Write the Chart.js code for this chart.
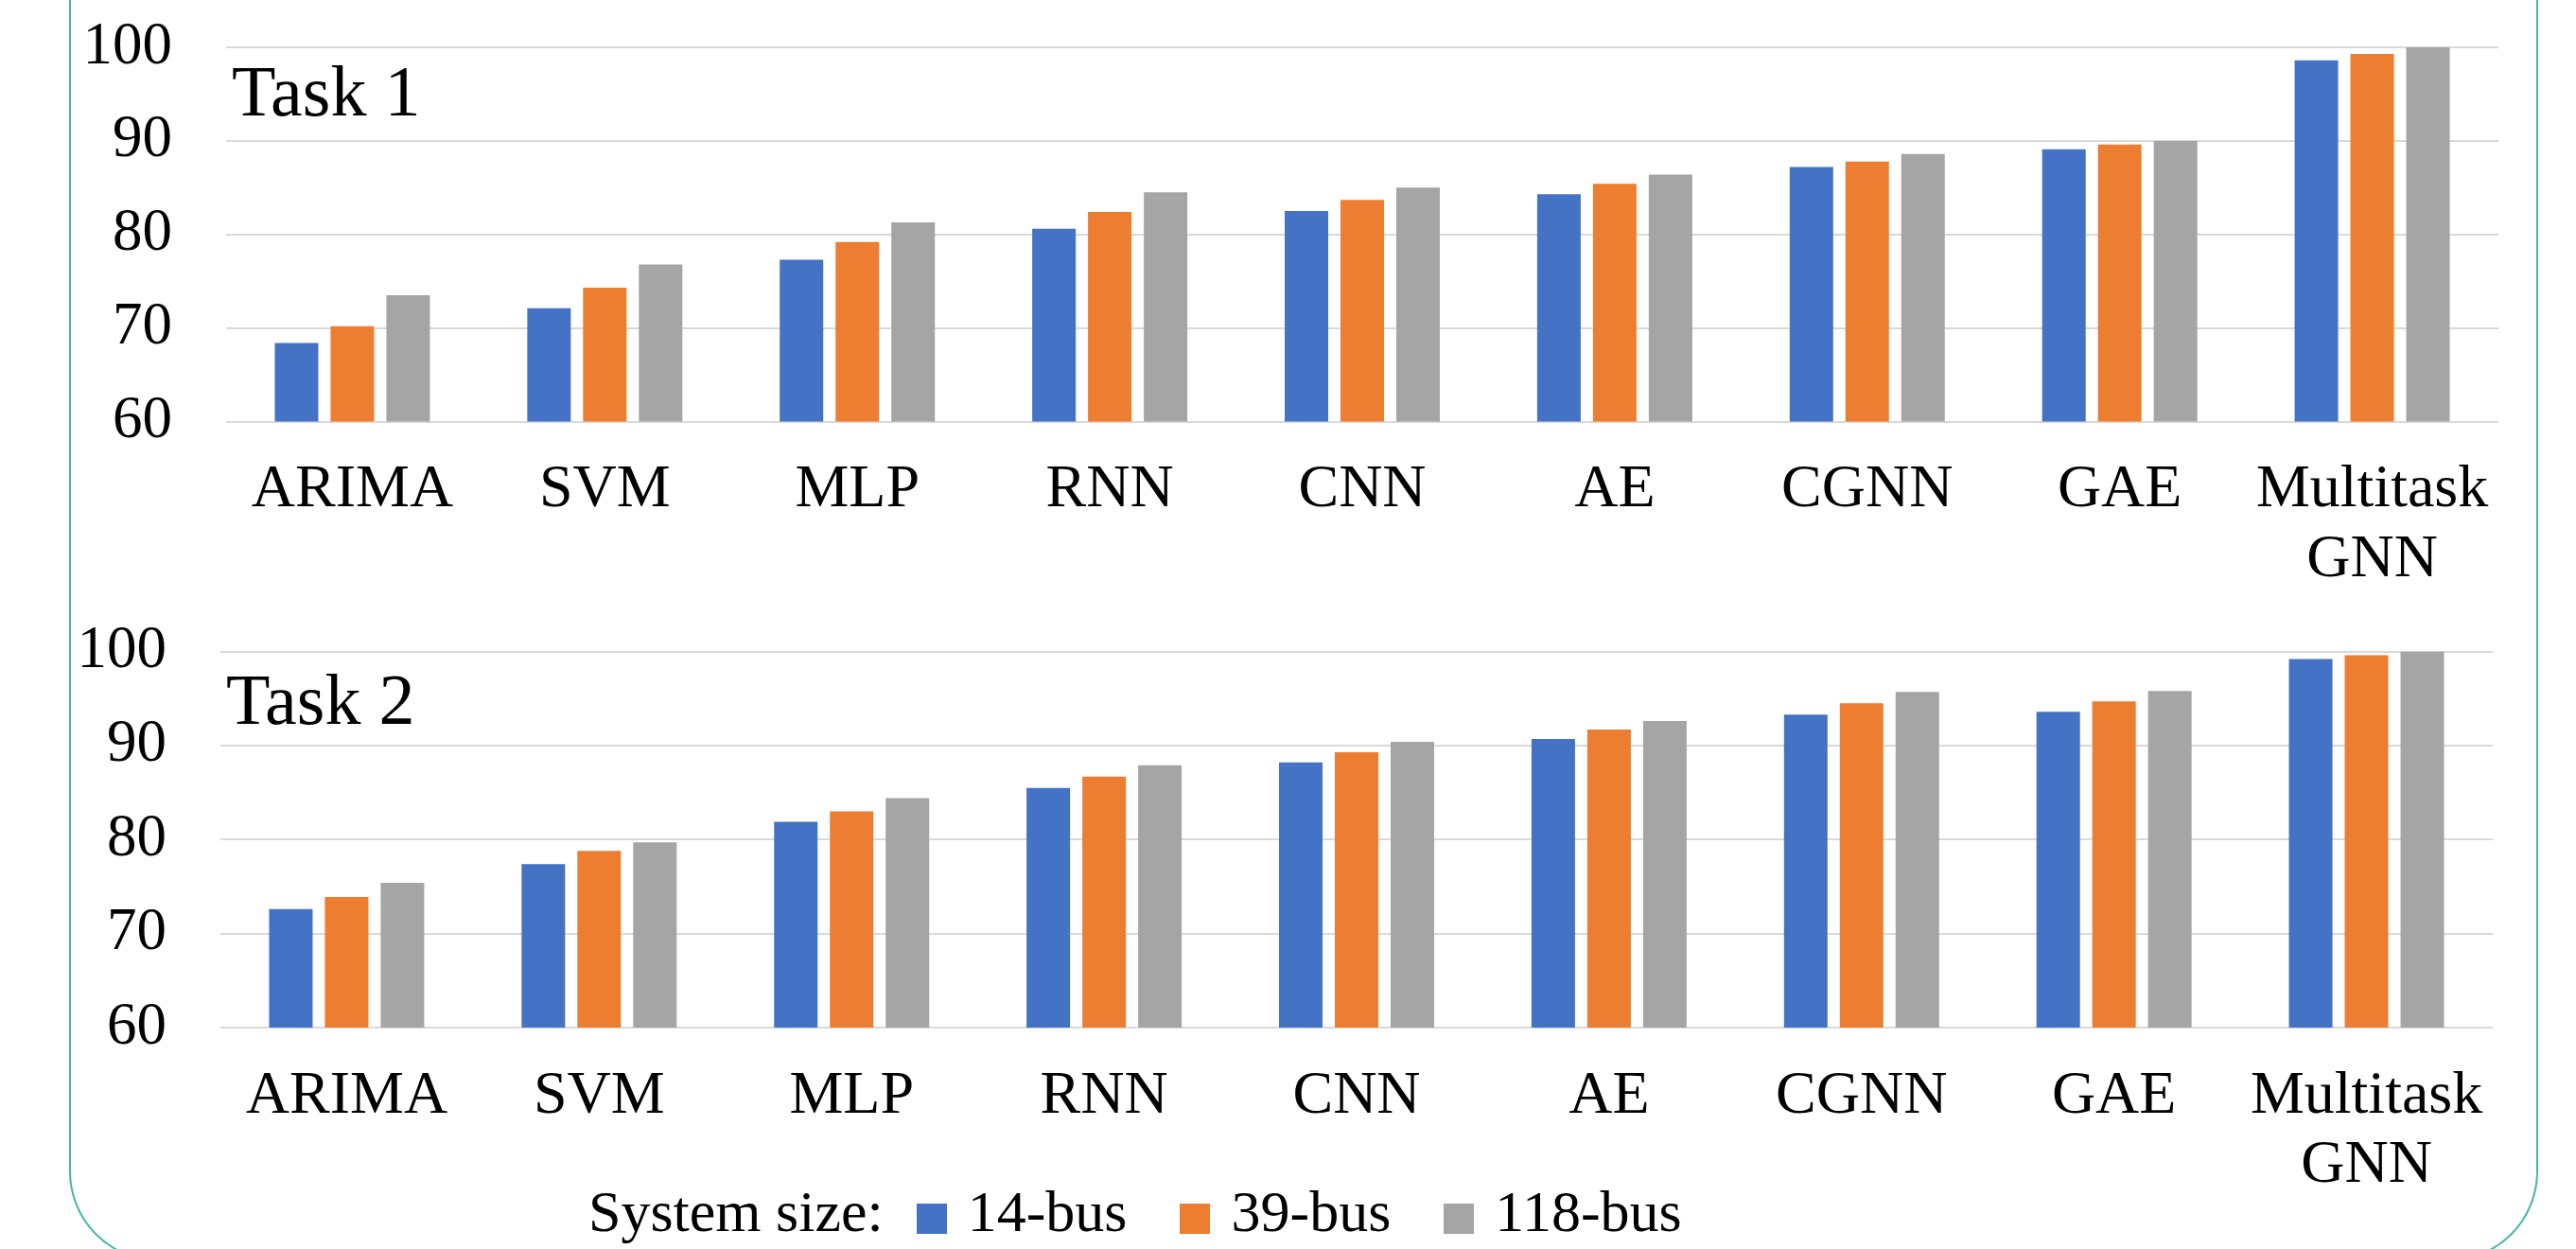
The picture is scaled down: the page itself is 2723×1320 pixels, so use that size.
<!DOCTYPE html>
<html>
<head>
<meta charset="utf-8">
<script src="https://cdn.jsdelivr.net/npm/chart.js@4.4.1/dist/chart.umd.min.js"></script>
<style>
  html, body { margin: 0; padding: 0; background: #ffffff; }
  body { width: 2723px; height: 1320px; position: relative; overflow: hidden; }
  canvas { position: absolute; left: 0; }
  #frame {
    position: absolute; left: 73px; top: -120px; width: 2610px; height: 1453px;
    border: 2px solid #47B5A8; border-radius: 95px; box-sizing: border-box;
  }
  #legend {
    position: absolute; left: 622px; top: 1249px; display: flex; align-items: center;
    font-family: 'Liberation Serif', 'Times New Roman', serif; font-size: 62px; line-height: 62px; color: #000;
    white-space: nowrap;
  }
  #legend .sw { width: 32px; height: 32px; position: relative; top: 8px; margin-right: 22px; }
  #legend .lbl { margin-right: 56px; }
  #legend .title { margin-right: 35px; }
</style>
</head>
<body>
<div id="frame"></div>
<canvas id="c1" width="2723" height="640" style="top:0px"></canvas>
<canvas id="c2" width="2723" height="620" style="top:640px"></canvas>
<div id="legend"></div>
<script>
// ---- data ----
const categories = ['ARIMA', 'SVM', 'MLP', 'RNN', 'CNN', 'AE', 'CGNN', 'GAE', ['Multitask', 'GNN']];
const seriesNames = ['14-bus', '39-bus', '118-bus'];
const seriesColors = ['#4472C4', '#ED7D31', '#A5A5A5'];
const legendTitle = 'System size:';
const yTicks = [60, 70, 80, 90, 100];

const task1Label = 'Task 1';
const task1Bus14  = [68.4, 72.1, 77.3, 80.6, 82.5, 84.3, 87.2, 89.1, 98.6];
const task1Bus39  = [70.2, 74.3, 79.2, 82.4, 83.7, 85.4, 87.8, 89.6, 99.3];
const task1Bus118 = [73.5, 76.8, 81.3, 84.5, 85.0, 86.4, 88.6, 90.0, 100];

const task2Label = 'Task 2';
const task2Bus14  = [72.6, 77.4, 81.9, 85.5, 88.2, 90.7, 93.3, 93.6, 99.2];
const task2Bus39  = [73.9, 78.8, 83.0, 86.7, 89.3, 91.7, 94.5, 94.7, 99.6];
const task2Bus118 = [75.4, 79.7, 84.4, 87.9, 90.4, 92.6, 95.7, 95.8, 100];

// ---- chart ----
const FONT = "'Liberation Serif', 'Times New Roman', serif";

const taskLabelPlugin = {
  id: 'taskLabel',
  afterDraw(chart, args, opts) {
    const ctx = chart.ctx;
    ctx.save();
    ctx.font = opts.size + 'px ' + FONT;
    ctx.fillStyle = '#000';
    ctx.textBaseline = 'alphabetic';
    ctx.textAlign = 'left';
    ctx.fillText(opts.text, chart.chartArea.left + opts.dx, chart.chartArea.top + opts.dy);
    ctx.restore();
  }
};

function makeChart(canvasId, label, series, geo) {
  const canvas = document.getElementById(canvasId);
  const W = canvas.width, H = canvas.height;
  return new Chart(canvas, {
    type: 'bar',
    data: {
      labels: categories,
      datasets: series.map((vals, i) => ({
        label: seriesNames[i],
        data: vals,
        backgroundColor: seriesColors[i],
        borderWidth: 0,
        barPercentage: 0.78,
        categoryPercentage: 0.663
      }))
    },
    options: {
      responsive: false,
      animation: false,
      devicePixelRatio: 1,
      layout: { padding: { left: 0, right: W - geo.right, top: geo.top, bottom: 0 } },
      plugins: {
        legend: { display: false },
        tooltip: { enabled: false },
        taskLabel: { text: label, size: 76, dx: 6, dy: geo.labelDy }
      },
      scales: {
        x: {
          grid: { display: false, drawTicks: false },
          border: { display: false },
          ticks: {
            font: { family: FONT, size: 64, lineHeight: 1.15 },
            color: '#000', padding: 36, maxRotation: 0, minRotation: 0, autoSkip: false
          },
          afterFit: s => { s.height = H - geo.bottom; }
        },
        y: {
          min: 60, max: 100,
          afterBuildTicks: s => { s.ticks = yTicks.map(v => ({ value: v })); },
          ticks: { font: { family: FONT, size: 63 }, color: '#000', padding: 0 },
          grid: { color: '#D9D9D9', lineWidth: 2, drawTicks: true, tickLength: 57, tickColor: 'rgba(0,0,0,0)' },
          border: { display: false },
          afterFit: s => { s.width = geo.left; }
        }
      }
    },
    plugins: [taskLabelPlugin]
  });
}

makeChart('c1', task1Label, [task1Bus14, task1Bus39, task1Bus118],
  { left: 239, right: 2641, top: 50, bottom: 445.5, labelDy: 72 });
makeChart('c2', task2Label, [task2Bus14, task2Bus39, task2Bus118],
  { left: 233, right: 2635, top: 48.6, bottom: 446, labelDy: 76 });

// ---- legend ----
const legend = document.getElementById('legend');
const t = document.createElement('span');
t.className = 'title'; t.textContent = legendTitle;
legend.appendChild(t);
seriesNames.forEach((name, i) => {
  const sw = document.createElement('span');
  sw.className = 'sw'; sw.style.background = seriesColors[i];
  legend.appendChild(sw);
  const l = document.createElement('span');
  l.className = 'lbl'; l.textContent = name;
  legend.appendChild(l);
});
</script>
</body>
</html>
